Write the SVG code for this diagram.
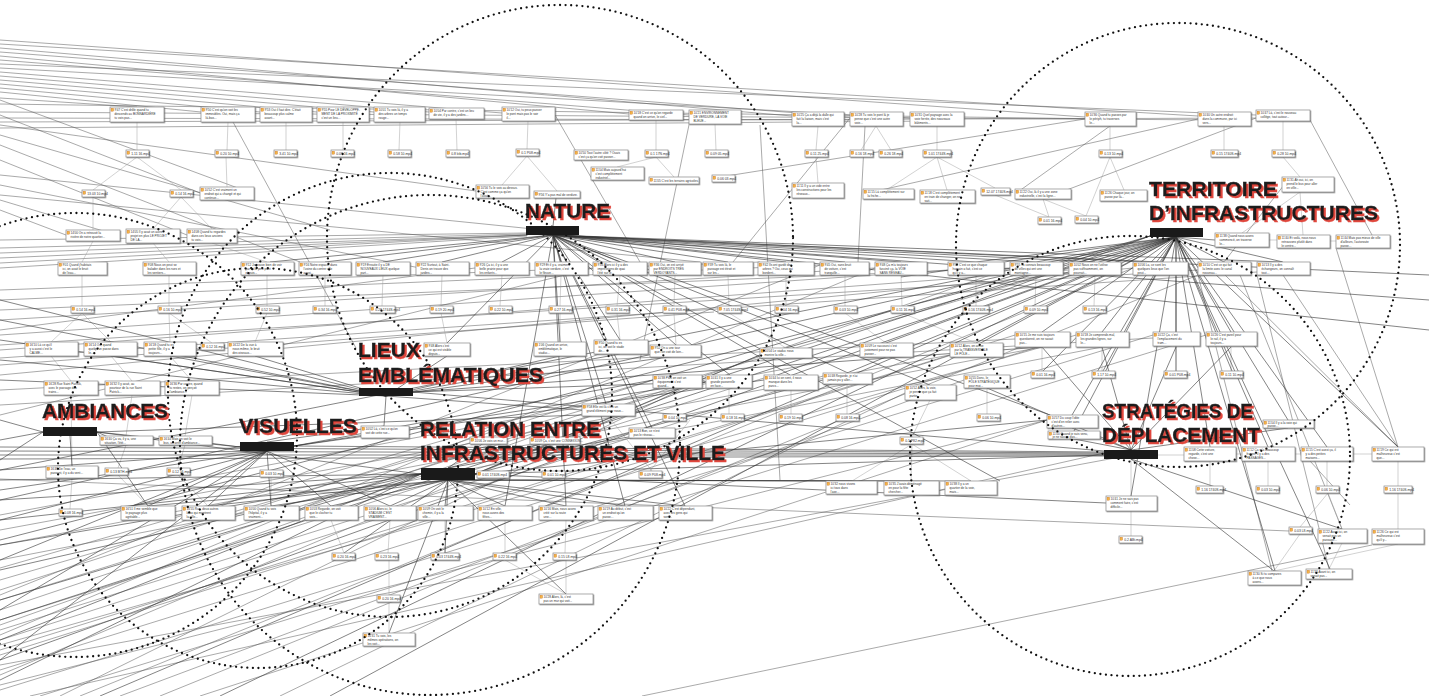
<svg xmlns="http://www.w3.org/2000/svg" xmlns:xlink="http://www.w3.org/1999/xlink" width="1429" height="696" viewBox="0 0 1429 696">
<defs>
<style>
.b{fill:#fff;stroke:#8a8a8a;stroke-width:.7;filter:url(#sh)}
.t{font-family:"Liberation Sans",Arial,sans-serif;font-size:3.1px;fill:#333}
.ft{font-family:"Liberation Sans",Arial,sans-serif;font-size:3.4px;fill:#333}
.dc{fill:none;stroke:#111;stroke-width:2.3;stroke-linecap:round;stroke-dasharray:0 5.6}
.e1{fill:none;stroke:#333;stroke-width:.6}
.e2{fill:none;stroke:#555;stroke-width:.5}
.e3{fill:none;stroke:#9a9a9a;stroke-width:.45}
.lb{font-family:"Liberation Sans",Arial,sans-serif;font-weight:bold;font-size:21px;fill:#1c1c1c;stroke:#1c1c1c;stroke-width:.35;filter:url(#rs)}
.bar{fill:#1a1a1a}
</style>
<filter id="sh" x="-10%" y="-20%" width="130%" height="160%"><feDropShadow dx="0.8" dy="0.9" stdDeviation="0.4" flood-color="#666" flood-opacity="0.7"/></filter>
<filter id="rs" x="-5%" y="-25%" width="115%" height="160%"><feFlood flood-color="#e0463c" result="c"/><feComposite in="c" in2="SourceAlpha" operator="in" result="s"/><feOffset in="s" dx="2" dy="1.5" result="o"/><feMerge><feMergeNode in="o"/><feMergeNode in="SourceGraphic"/></feMerge></filter>
<g id="ic"><rect x="1" y="1.2" width="2.6" height="3" fill="#f2b544" stroke="#c0602a" stroke-width=".3"/></g>
</defs>
<rect width="1429" height="696" fill="#fff"/>

<g id="connectors">
<path class="e2" d="M0 40L1085 117M0 44L1198 116M0 48L792 116M0 52L850 117M0 56L629 114M0 60L689 115M0 64L1256 115M0 68L910 118M0 72L502 113M0 76L429 112M0 80L374 112M0 84L317 112M0 88L260 112M0 92L201 112M0 98L137 107M0 104L1110 119M0 112L1224 120M0 118L876 120M0 122L1283 118M0 128L937 121
M0 100L254 194M0 115L200 193M0 125L476 191M0 135L330 230M0 145L300 262M0 160L187 235M0 175L553 231M0 200L120 236M0 210L66 235M0 185L420 268M0 195L700 262
M0 240L526 233M0 248L526 234M0 253L527 235M0 258L527 235M0 263L528 235M0 268L527 236
M0 290L760 262M0 300L820 265M0 310L1010 268M0 320L875 268M0 335L948 270M0 350L1069 270M0 365L714 312M0 375L1133 268M0 390L1015 339M0 405L1153 338M0 415L593 268M0 330L475 268M0 345L1198 270M0 358L1257 272
M0 600L705 380M0 620L764 378M0 640L823 376M0 655L1015 335M0 670L1076 335M0 690L1153 335M40 696L1206 335M120 696L964 380M200 696L1047 420M280 696L905 393M0 580L1176 237M0 560L1102 347M0 545L1042 347M0 530L950 355M0 515L860 355
M0 645L1042 347M0 650L950 355M0 665L1131 455M0 685L1047 420M30 696L1104 453M0 568L653 380M0 595L820 265M0 625L1010 268M0 635L875 268M80 696L1133 268M160 696L1198 275
M642 696L1372 545M0 479L1289 531M0 590L653 380M0 610L582 414M0 630L629 433M60 696L700 380M0 675L760 355
M233 122L356 348M555 115L640 262M690 120L640 360M760 125L780 480M865 126L858 262M1085 119L714 178M1198 119L863 194M1110 126L1015 194M850 118L733 262M1256 118L1043 199
M1225 275L1398 447M1198 275L1272 571M1257 275L1329 569M1240 275L1342 529M1283 275L1398 447M1336 248L1398 447M1284 185L1224 262M1310 120L1372 235M1300 450L1350 505"/>
<path class="e3" d="M137 122V150M228 122L227 150M286 122V150M343 122V150M400 122L399 150M456 119L457 150M528 121L527 149M656 120L656 150M715 124L716 150M818 126L816 150M876 126L861 150M876 126L891 150M937 126V150M1110 126V150M1224 126V150M1283 121V150
M137 157L93 190M137 157L181 190M226 157L227 187M527 156L502 185M527 156L557 191M656 157L617 167M656 157L674 177M816 157L818 183M937 157L888 189M937 157L947 190M937 157L995 188M1110 157L1086 216M1110 157L1124 190M1283 157L1300 177M1300 192L1242 233M1300 192L1303 235M1043 199L1049 217M1043 199L1086 216M1269 240H1277M1330 241H1336M995 195L1049 217
M93 197L93 230M181 197L153 229M181 197L212 229M93 241L82 262M153 243L169 262M212 243L267 262
M82 275V306M169 275V306M267 275V306M325 275V306M383 275L382 306M442 275L441 306M502 275L500 306M561 275L560 306M620 275L617 306M675 275L674 306M728 275L729 306M786 275V306M845 275V306M901 275L902 306M976 275V306M1036 275L1035 306M1095 275L1094 306
M82 313L51 342M82 313L111 342M169 313L170 342M169 313L212 343M267 313L255 342M441 313L447 343M560 313V342M617 313L620 340M674 313L676 345M729 313L786 348M845 313L886 343M902 313L976 343
M51 356L71 381M111 356L132 381M170 356L192 381M71 395L72 466M132 395L126 436M192 395L185 436M126 445L118 468M185 445L178 468M72 478L70 509M118 475L148 506M178 475L208 506M271 477V506
M1042 347V371M1102 347V371M1176 346V371M1231 346V371M791 390V414M847 384V414M729 388V414M987 388V414M930 400L912 437M912 444L852 481M912 444L911 481M912 444L971 481
M1131 459V496M1131 511V536M1210 461V486M1268 461V486M1327 461V486M1398 461V486M1328 493L1300 527M1328 493L1342 529M1398 493V529M1342 543L1329 569M1300 534L1274 571M1398 544L1274 571M1236 454H1242M1295 454H1301M1353 454H1372M1158 455H1184
M331 520L344 553M390 520L388 553M445 520V553M505 520V553M566 520L565 553M389 560V595M389 600V633M566 560V594M505 560L566 594M608 416L652 471M690 420L650 471"/>
<path class="e1" d="M553 235L270 262M553 235L325 262M553 235L383 262M553 235L442 262M553 235L502 262M553 235L561 262M553 235L620 262M553 235L675 262M553 235L728 262M553 235L786 262M553 235L845 262M553 235L901 262M553 235L976 262M553 235L1036 262M553 235L1095 262M553 235L1160 262M553 235L447 343M553 235L560 342M553 235L620 340M553 235L676 345M553 235L730 375M553 235L790 375M553 235L848 373M553 235L930 385M553 235L606 404M553 235L652 428M553 235L505 506M553 235L566 506M553 235L625 506M553 235L685 506M553 235L1429 300M553 235L1429 330M553 226L556 198M553 235L1050 415M553 235L1000 481M553 235L1429 275M553 235L1282 262
M1176 237L1042 332M1176 237L1102 332M1176 237L1176 332M1176 237L1231 332M1176 237L1043 371M1176 237L1103 371M1176 237L1176 371M1176 237L1232 371M1176 237L1210 447M1176 237L1268 447M1176 237L1327 447M1176 237L1398 447M1176 237L1224 262M1176 237L1283 262M1176 237L1215 240M1176 237L1160 262M1176 237L1036 262M1176 237L976 262M1176 237L901 277M1176 237L886 343M1176 237L786 348M1176 237L976 343M1176 237L847 373M1176 237L1072 415M1176 237L1074 431M1176 237L1288 420M1176 237L1131 496M1176 237L1275 571M1176 237L1330 569
M1176 237L0 470M1176 237L0 500M1176 237L0 540M1176 237L0 620M1176 237L0 660M1176 237L100 696M1176 237L220 696M1176 237L330 696M1150 236L705 382M1150 236L764 380M1150 236L653 380
M1104 453L0 447M1104 454L0 451M1104 455L0 455M1104 456L0 459M1131 450L1042 347M1131 450L1102 347M1131 450L1176 347M1131 450L1231 347M1131 450L1072 428M1131 450L1074 439M1131 450L1288 428M1131 450L987 388M1131 459L1342 529M1131 459L1274 571
M448 480L148 506M448 480L208 506M448 480L271 506M448 480L331 506M448 480L390 506M448 480L445 506M448 480L505 506M448 480L566 506M448 480L625 506M448 480L685 506M448 480L852 481M448 480L911 481M448 480L971 481M448 480L344 553M448 480L445 553M448 480L566 594M448 480L389 633M421 474L0 480M421 474L0 500M421 474L0 520M421 474L0 545M421 474L0 570M421 474L0 600M421 474L0 640M421 474L0 680M475 474L1104 455M475 474L1106 503M475 474L760 355M475 474L823 380M475 474L705 382M475 474L1047 420M448 468L488 440M448 468L555 440M448 468L652 433
M267 451L148 506M267 451L208 506M267 451L271 506M267 451L331 506M267 451L390 506M267 451L0 470M267 451L0 490M267 451L0 520M267 451L0 560M267 451L0 610M267 451L0 660M294 446L705 382M294 446L764 380M294 446L653 380M294 446L1104 452M267 442L384 426M240 447L185 440
M70 436L72 466M43 432L0 420M43 432L0 440M43 432L0 460M97 432L420 474M97 432L240 447M97 432L582 415M97 432L126 445M97 432L148 506
M386 396L447 356M386 396L560 356M386 396L620 354M386 396L676 356M386 396L255 356M386 396L170 356M386 396L111 356M386 396L0 300M386 396L0 320M386 396L0 340M386 396L0 360M386 396L0 380M386 396L582 410M386 396L384 426M413 392L706 382M413 392L1104 451M413 392L1042 347"/>
</g>

<g id="nodes">
<g id="q1" transform="translate(110 107)"><rect class="b" width="54" height="15"/><use href="#ic"/><text class="t"><tspan x="4.5" y="4.2">9'47 C'est drôle quand tu</tspan><tspan x="4.5" y="8.2">descends au BONNARDIÈRE</tspan><tspan x="4.5" y="12.2">tu vois pas...</tspan></text></g>
<g id="q2" transform="translate(201 107)"><rect class="b" width="54" height="15"/><use href="#ic"/><text class="t"><tspan x="4.5" y="4.2">9'50 C'est qu'on voit les</tspan><tspan x="4.5" y="8.2">immeubles. Oui, mais ça</tspan><tspan x="4.5" y="12.2">là-bas...</tspan></text></g>
<g id="q3" transform="translate(260 107)"><rect class="b" width="52" height="15"/><use href="#ic"/><text class="t"><tspan x="4.5" y="4.2">9'53 Oui il faut dire. C'était</tspan><tspan x="4.5" y="8.2">beaucoup plus calme</tspan><tspan x="4.5" y="12.2">avant...</tspan></text></g>
<g id="q4" transform="translate(317 107)"><rect class="b" width="52" height="15"/><use href="#ic"/><text class="t"><tspan x="4.5" y="4.2">9'55 Pour LE DÉVELOPPE-</tspan><tspan x="4.5" y="8.2">MENT DE LA PROXIMITÉ</tspan><tspan x="4.5" y="12.2">c'est un lieu...</tspan></text></g>
<g id="q5" transform="translate(374 107)"><rect class="b" width="51" height="15"/><use href="#ic"/><text class="t"><tspan x="4.5" y="4.2">10'01 Tu vois là, il y a</tspan><tspan x="4.5" y="8.2">des arbres un temps</tspan><tspan x="4.5" y="12.2">rouge...</tspan></text></g>
<g id="q6" transform="translate(429 108)"><rect class="b" width="55" height="11"/><use href="#ic"/><text class="t"><tspan x="4.5" y="4.2">10'04 Par contre, c'est un lieu</tspan><tspan x="4.5" y="8.2">de vie, il y a des jardins...</tspan></text></g>
<g id="q7" transform="translate(502 107)"><rect class="b" width="53" height="14"/><use href="#ic"/><text class="t"><tspan x="4.5" y="4.2">10'12 Oui, tu peux passer</tspan><tspan x="4.5" y="8.2">le pont mais pas le soir</tspan><tspan x="4.5" y="12.2">il...</tspan></text></g>
<g id="q8" transform="translate(629 110)"><rect class="b" width="54" height="10"/><use href="#ic"/><text class="t"><tspan x="4.5" y="4.2">10'18 C'est ce qu'on regarde</tspan><tspan x="4.5" y="8.2">quand on arrive, le ciel...</tspan></text></g>
<g id="q9" transform="translate(689 110)"><rect class="b" width="52" height="14"/><use href="#ic"/><text class="t"><tspan x="4.5" y="4.2">10'21 ENVIRONNEMENT</tspan><tspan x="4.5" y="8.2">DE VERDURE, LA VOIE</tspan><tspan x="4.5" y="12.2">BLEUE...</tspan></text></g>
<g id="q10" transform="translate(792 112)"><rect class="b" width="52" height="14"/><use href="#ic"/><text class="t"><tspan x="4.5" y="4.2">10'25 Ça a déjà la dalle qui</tspan><tspan x="4.5" y="8.2">fait la liaison, mais c'est</tspan><tspan x="4.5" y="12.2">la...</tspan></text></g>
<g id="q11" transform="translate(850 112)"><rect class="b" width="53" height="14"/><use href="#ic"/><text class="t"><tspan x="4.5" y="4.2">10'28 Tu vois le pont là je</tspan><tspan x="4.5" y="8.2">pense que c'est une autre</tspan><tspan x="4.5" y="12.2">voie...</tspan></text></g>
<g id="q12" transform="translate(910 112)"><rect class="b" width="54" height="14"/><use href="#ic"/><text class="t"><tspan x="4.5" y="4.2">10'31 Quel paysage avec la</tspan><tspan x="4.5" y="8.2">voie ferrée, des nouveaux</tspan><tspan x="4.5" y="12.2">bâtiments...</tspan></text></g>
<g id="q13" transform="translate(1085 112)"><rect class="b" width="51" height="14"/><use href="#ic"/><text class="t"><tspan x="4.5" y="4.2">10'36 Quand tu passes par</tspan><tspan x="4.5" y="8.2">le périph, tu traverses</tspan><tspan x="4.5" y="12.2">le...</tspan></text></g>
<g id="q14" transform="translate(1198 112)"><rect class="b" width="53" height="14"/><use href="#ic"/><text class="t"><tspan x="4.5" y="4.2">10'40 Un autre endroit</tspan><tspan x="4.5" y="8.2">dans la commune, par ici</tspan><tspan x="4.5" y="12.2">vers...</tspan></text></g>
<g id="q15" transform="translate(1256 110)"><rect class="b" width="54" height="11"/><use href="#ic"/><text class="t"><tspan x="4.5" y="4.2">10'47 Là, c'est le nouveau</tspan><tspan x="4.5" y="8.2">collège, tout autour...</tspan></text></g>
<g id="q16" transform="translate(574 150)"><rect class="b" width="54" height="10"/><use href="#ic"/><text class="t"><tspan x="4.5" y="4.2">10'50 Tout l'autre côté ? Ouais</tspan><tspan x="4.5" y="8.2">c'est ça qu'on voit passer...</tspan></text></g>
<g id="q17" transform="translate(200 187)"><rect class="b" width="54" height="13"/><use href="#ic"/><text class="t"><tspan x="4.5" y="4.2">10'52 C'est vraiment un</tspan><tspan x="4.5" y="8.2">endroit qui a changé et qui</tspan><tspan x="4.5" y="12.2">continue...</tspan></text></g>
<g id="q18" transform="translate(476 185)"><rect class="b" width="53" height="13"/><use href="#ic"/><text class="t"><tspan x="4.5" y="4.2">10'56 Tu le vois au dessus.</tspan><tspan x="4.5" y="8.2">C'est comme ça qu'on</tspan><tspan x="4.5" y="12.2">l'avait...</tspan></text></g>
<g id="q19" transform="translate(534 191)"><rect class="b" width="46" height="7"/><use href="#ic"/><text class="t"><tspan x="4.5" y="4.6">9'56 Y'a pas mal de verdure.</tspan></text></g>
<g id="q20" transform="translate(591 167)"><rect class="b" width="53" height="13"/><use href="#ic"/><text class="t"><tspan x="4.5" y="4.2">11'04 Mais aujourd'hui</tspan><tspan x="4.5" y="8.2">c'est complètement</tspan><tspan x="4.5" y="12.2">industriel...</tspan></text></g>
<g id="q21" transform="translate(649 177)"><rect class="b" width="50" height="7"/><use href="#ic"/><text class="t"><tspan x="4.5" y="4.6">11'05 C'est les terrains agricoles.</tspan></text></g>
<g id="q22" transform="translate(792 183)"><rect class="b" width="52" height="15"/><use href="#ic"/><text class="t"><tspan x="4.5" y="4.2">11'11 Il y a un vide entre</tspan><tspan x="4.5" y="8.2">les constructions pour les</tspan><tspan x="4.5" y="12.2">réseaux...</tspan></text></g>
<g id="q23" transform="translate(863 189)"><rect class="b" width="51" height="10"/><use href="#ic"/><text class="t"><tspan x="4.5" y="4.2">11'15 Là complètement sur</tspan><tspan x="4.5" y="8.2">la friche...</tspan></text></g>
<g id="q24" transform="translate(920 190)"><rect class="b" width="55" height="13"/><use href="#ic"/><text class="t"><tspan x="4.5" y="4.2">11'18 C'est complètement</tspan><tspan x="4.5" y="8.2">en train de changer, on ne</tspan><tspan x="4.5" y="12.2">sait...</tspan></text></g>
<g id="q25" transform="translate(1015 189)"><rect class="b" width="56" height="10"/><use href="#ic"/><text class="t"><tspan x="4.5" y="4.2">11'22 Oui, là il y a une zone</tspan><tspan x="4.5" y="8.2">industrielle, c'est la ligne...</tspan></text></g>
<g id="q26" transform="translate(1100 190)"><rect class="b" width="47" height="11"/><use href="#ic"/><text class="t"><tspan x="4.5" y="4.2">11'26 Chaque jour, on</tspan><tspan x="4.5" y="8.2">passe par là...</tspan></text></g>
<g id="q27" transform="translate(1282 177)"><rect class="b" width="52" height="15"/><use href="#ic"/><text class="t"><tspan x="4.5" y="4.2">11'31 Ah oui, ici, on</tspan><tspan x="4.5" y="8.2">prend le bus pour aller</tspan><tspan x="4.5" y="12.2">en ville...</tspan></text></g>
<g id="q28" transform="translate(1215 233)"><rect class="b" width="54" height="14"/><use href="#ic"/><text class="t"><tspan x="4.5" y="4.2">11'38 Quand nous avons</tspan><tspan x="4.5" y="8.2">commencé, on traverse</tspan><tspan x="4.5" y="12.2">le...</tspan></text></g>
<g id="q29" transform="translate(1277 235)"><rect class="b" width="53" height="13"/><use href="#ic"/><text class="t"><tspan x="4.5" y="4.2">11'40 Et voilà, nous nous</tspan><tspan x="4.5" y="8.2">retrouvons plutôt dans</tspan><tspan x="4.5" y="12.2">le centre...</tspan></text></g>
<g id="q30" transform="translate(1336 235)"><rect class="b" width="54" height="13"/><use href="#ic"/><text class="t"><tspan x="4.5" y="4.2">11'44 Mais pas mieux de ville</tspan><tspan x="4.5" y="8.2">d'ailleurs, l'autoroute</tspan><tspan x="4.5" y="12.2">passe...</tspan></text></g>
<g id="q31" transform="translate(66 230)"><rect class="b" width="54" height="11"/><use href="#ic"/><text class="t"><tspan x="4.5" y="4.2">14'00 On a retrouvé la</tspan><tspan x="4.5" y="8.2">rivière de notre quartier...</tspan></text></g>
<g id="q32" transform="translate(126 229)"><rect class="b" width="54" height="14"/><use href="#ic"/><text class="t"><tspan x="4.5" y="4.2">14'05 Il y avait un autre</tspan><tspan x="4.5" y="8.2">projet en plus LE PROJET</tspan><tspan x="4.5" y="12.2">DE LA...</tspan></text></g>
<g id="q33" transform="translate(187 229)"><rect class="b" width="50" height="14"/><use href="#ic"/><text class="t"><tspan x="4.5" y="4.2">14'08 Quand tu regardes</tspan><tspan x="4.5" y="8.2">dans ces lieux anciens</tspan><tspan x="4.5" y="12.2">tu vois...</tspan></text></g>
<g id="q34" transform="translate(58 262)"><rect class="b" width="49" height="13"/><use href="#ic"/><text class="t"><tspan x="4.5" y="4.2">9'01 Quand j'habitais</tspan><tspan x="4.5" y="8.2">ici, on avait le bruit</tspan><tspan x="4.5" y="12.2">de l'eau...</tspan></text></g>
<g id="q35" transform="translate(143 262)"><rect class="b" width="53" height="13"/><use href="#ic"/><text class="t"><tspan x="4.5" y="4.2">9'08 Nous on peut se</tspan><tspan x="4.5" y="8.2">balader dans les rues et</tspan><tspan x="4.5" y="12.2">les sentiers...</tspan></text></g>
<g id="q36" transform="translate(241 262)"><rect class="b" width="53" height="13"/><use href="#ic"/><text class="t"><tspan x="4.5" y="4.2">9'12 Je trouve bien de voir</tspan><tspan x="4.5" y="8.2">par ici le petit pont</tspan><tspan x="4.5" y="12.2">et puis...</tspan></text></g>
<g id="q37" transform="translate(299 262)"><rect class="b" width="52" height="13"/><use href="#ic"/><text class="t"><tspan x="4.5" y="4.2">9'16 Notre espace, dans</tspan><tspan x="4.5" y="8.2">l'usine du centre ville</tspan><tspan x="4.5" y="12.2">aussi...</tspan></text></g>
<g id="q38" transform="translate(356 262)"><rect class="b" width="54" height="13"/><use href="#ic"/><text class="t"><tspan x="4.5" y="4.2">9'19 Ensuite il y a DE</tspan><tspan x="4.5" y="8.2">NOUVEAUX LIEUX quelque</tspan><tspan x="4.5" y="12.2">part...</tspan></text></g>
<g id="q39" transform="translate(416 262)"><rect class="b" width="53" height="13"/><use href="#ic"/><text class="t"><tspan x="4.5" y="4.2">9'22 Surtout, à Saint-</tspan><tspan x="4.5" y="8.2">Denis on trouve des</tspan><tspan x="4.5" y="12.2">jardins...</tspan></text></g>
<g id="q40" transform="translate(475 262)"><rect class="b" width="54" height="13"/><use href="#ic"/><text class="t"><tspan x="4.5" y="4.2">9'26 Ça ici, il y a une</tspan><tspan x="4.5" y="8.2">belle prairie pour que</tspan><tspan x="4.5" y="12.2">les enfants...</tspan></text></g>
<g id="q41" transform="translate(535 262)"><rect class="b" width="53" height="13"/><use href="#ic"/><text class="t"><tspan x="4.5" y="4.2">9'29 Et il y a, vraiment</tspan><tspan x="4.5" y="8.2">la vraie verdure, c'est</tspan><tspan x="4.5" y="12.2">le fleuve...</tspan></text></g>
<g id="q42" transform="translate(593 262)"><rect class="b" width="54" height="13"/><use href="#ic"/><text class="t"><tspan x="4.5" y="4.2">9'33 Alors ici il y a des</tspan><tspan x="4.5" y="8.2">impressions de quai</tspan><tspan x="4.5" y="12.2">l'été sur le...</tspan></text></g>
<g id="q43" transform="translate(649 262)"><rect class="b" width="52" height="13"/><use href="#ic"/><text class="t"><tspan x="4.5" y="4.2">9'36 Oui, on est arrivé</tspan><tspan x="4.5" y="8.2">par ENDROITS TRÈS</tspan><tspan x="4.5" y="12.2">VERDOYANTS...</tspan></text></g>
<g id="q44" transform="translate(703 262)"><rect class="b" width="50" height="13"/><use href="#ic"/><text class="t"><tspan x="4.5" y="4.2">9'39 Tu vois là, le</tspan><tspan x="4.5" y="8.2">passage est étroit et</tspan><tspan x="4.5" y="12.2">sur les...</tspan></text></g>
<g id="q45" transform="translate(758 262)"><rect class="b" width="56" height="13"/><use href="#ic"/><text class="t"><tspan x="4.5" y="4.2">9'42 Ils ont gardé des</tspan><tspan x="4.5" y="8.2">arbres ? Oui, ceux qui</tspan><tspan x="4.5" y="12.2">bordent...</tspan></text></g>
<g id="q46" transform="translate(820 262)"><rect class="b" width="49" height="13"/><use href="#ic"/><text class="t"><tspan x="4.5" y="4.2">9'45 Oui, sans bruit</tspan><tspan x="4.5" y="8.2">de voiture, c'est</tspan><tspan x="4.5" y="12.2">tranquille...</tspan></text></g>
<g id="q47" transform="translate(875 262)"><rect class="b" width="52" height="13"/><use href="#ic"/><text class="t"><tspan x="4.5" y="4.2">9'48 Ça m'a toujours</tspan><tspan x="4.5" y="8.2">fasciné ça, la VOIE</tspan><tspan x="4.5" y="12.2">SANS RÉSEAU...</tspan></text></g>
<g id="q48" transform="translate(948 262)"><rect class="b" width="56" height="13"/><use href="#ic"/><text class="t"><tspan x="4.5" y="4.2">9'52 C'est ce que chaque</tspan><tspan x="4.5" y="8.2">humain a fait, c'est ce</tspan><tspan x="4.5" y="12.2">qu'il y a...</tspan></text></g>
<g id="q49" transform="translate(1010 262)"><rect class="b" width="53" height="13"/><use href="#ic"/><text class="t"><tspan x="4.5" y="4.2">9'55 Tu connais beaucoup</tspan><tspan x="4.5" y="8.2">de villes qui ont une</tspan><tspan x="4.5" y="12.2">montagne...</tspan></text></g>
<g id="q50" transform="translate(1069 262)"><rect class="b" width="52" height="13"/><use href="#ic"/><text class="t"><tspan x="4.5" y="4.2">10'02 Nous on ne l'utilise</tspan><tspan x="4.5" y="8.2">pas suffisamment, on</tspan><tspan x="4.5" y="12.2">pourrait...</tspan></text></g>
<g id="q51" transform="translate(1133 262)"><rect class="b" width="55" height="13"/><use href="#ic"/><text class="t"><tspan x="4.5" y="4.2">10'06 La, ce sont les</tspan><tspan x="4.5" y="8.2">quelques lieux que l'on</tspan><tspan x="4.5" y="12.2">peut...</tspan></text></g>
<g id="q52" transform="translate(1198 262)"><rect class="b" width="53" height="13"/><use href="#ic"/><text class="t"><tspan x="4.5" y="4.2">10'10 C'est ce qui fait</tspan><tspan x="4.5" y="8.2">la limite avec le canal</tspan><tspan x="4.5" y="12.2">nouveau...</tspan></text></g>
<g id="q53" transform="translate(1257 262)"><rect class="b" width="53" height="13"/><use href="#ic"/><text class="t"><tspan x="4.5" y="4.2">10'13 Il y a des</tspan><tspan x="4.5" y="8.2">échangeurs, on connaît</tspan><tspan x="4.5" y="12.2">tout...</tspan></text></g>
<g id="q54" transform="translate(25 342)"><rect class="b" width="53" height="14"/><use href="#ic"/><text class="t"><tspan x="4.5" y="4.2">16'10 Là ce qu'il</tspan><tspan x="4.5" y="8.2">y a aussi c'est le</tspan><tspan x="4.5" y="12.2">CALME...</tspan></text></g>
<g id="q55" transform="translate(84 342)"><rect class="b" width="53" height="14"/><use href="#ic"/><text class="t"><tspan x="4.5" y="4.2">16'14 Ou, quand</tspan><tspan x="4.5" y="8.2">quelqu'un passe dans</tspan><tspan x="4.5" y="12.2">le...</tspan></text></g>
<g id="q56" transform="translate(144 342)"><rect class="b" width="52" height="14"/><use href="#ic"/><text class="t"><tspan x="4.5" y="4.2">16'18 Quand tu es</tspan><tspan x="4.5" y="8.2">petite fille, il y a</tspan><tspan x="4.5" y="12.2">toujours...</tspan></text></g>
<g id="q57" transform="translate(228 342)"><rect class="b" width="55" height="14"/><use href="#ic"/><text class="t"><tspan x="4.5" y="4.2">16'22 De la vue à</tspan><tspan x="4.5" y="8.2">nous même, le bruit</tspan><tspan x="4.5" y="12.2">des oiseaux...</tspan></text></g>
<g id="q58" transform="translate(424 343)"><rect class="b" width="46" height="13"/><use href="#ic"/><text class="t"><tspan x="4.5" y="4.2">9'48 Alors c'est</tspan><tspan x="4.5" y="8.2">ce qui est visible</tspan><tspan x="4.5" y="12.2">depuis...</tspan></text></g>
<g id="q59" transform="translate(534 342)"><rect class="b" width="52" height="14"/><use href="#ic"/><text class="t"><tspan x="4.5" y="4.2">1'06 Quand on arrive,</tspan><tspan x="4.5" y="8.2">emblématique, le</tspan><tspan x="4.5" y="12.2">viaduc...</tspan></text></g>
<g id="q60" transform="translate(594 340)"><rect class="b" width="54" height="14"/><use href="#ic"/><text class="t"><tspan x="4.5" y="4.2">9'50 Quand tu es</tspan><tspan x="4.5" y="8.2">ici, on voit le stade</tspan><tspan x="4.5" y="12.2">de...</tspan></text></g>
<g id="q61" transform="translate(650 345)"><rect class="b" width="51" height="12"/><use href="#ic"/><text class="t"><tspan x="4.5" y="4.2">9'52 On a une tour</tspan><tspan x="4.5" y="8.2">que l'on voit de loin...</tspan></text></g>
<g id="q62" transform="translate(760 348)"><rect class="b" width="52" height="10"/><use href="#ic"/><text class="t"><tspan x="4.5" y="4.2">10'04 Le viaduc nous</tspan><tspan x="4.5" y="8.2">montre la ville...</tspan></text></g>
<g id="q63" transform="translate(860 343)"><rect class="b" width="53" height="14"/><use href="#ic"/><text class="t"><tspan x="4.5" y="4.2">10'09 Le raccourci c'est</tspan><tspan x="4.5" y="8.2">justement pour ne pas</tspan><tspan x="4.5" y="12.2">passer...</tspan></text></g>
<g id="q64" transform="translate(950 343)"><rect class="b" width="53" height="14"/><use href="#ic"/><text class="t"><tspan x="4.5" y="4.2">10'12 Alors, on arrive</tspan><tspan x="4.5" y="8.2">par la TRANSVERSALE</tspan><tspan x="4.5" y="12.2">LE PÔLE...</tspan></text></g>
<g id="q65" transform="translate(1015 332)"><rect class="b" width="55" height="15"/><use href="#ic"/><text class="t"><tspan x="4.5" y="4.2">10'15 Je me suis toujours</tspan><tspan x="4.5" y="8.2">questionné, on ne savait</tspan><tspan x="4.5" y="12.2">pas...</tspan></text></g>
<g id="q66" transform="translate(1076 332)"><rect class="b" width="53" height="15"/><use href="#ic"/><text class="t"><tspan x="4.5" y="4.2">10'18 Je comprends mal,</tspan><tspan x="4.5" y="8.2">les grandes lignes, sur</tspan><tspan x="4.5" y="12.2">le...</tspan></text></g>
<g id="q67" transform="translate(1153 332)"><rect class="b" width="47" height="14"/><use href="#ic"/><text class="t"><tspan x="4.5" y="4.2">10'22 Ça, c'est</tspan><tspan x="4.5" y="8.2">l'emplacement du</tspan><tspan x="4.5" y="12.2">tram...</tspan></text></g>
<g id="q68" transform="translate(1206 332)"><rect class="b" width="51" height="14"/><use href="#ic"/><text class="t"><tspan x="4.5" y="4.2">10'26 C'est pareil pour</tspan><tspan x="4.5" y="8.2">le rail, il y a</tspan><tspan x="4.5" y="12.2">toujours...</tspan></text></g>
<g id="q69" transform="translate(44 381)"><rect class="b" width="54" height="14"/><use href="#ic"/><text class="t"><tspan x="4.5" y="4.2">16'28 Rue Saint Patrick,</tspan><tspan x="4.5" y="8.2">avec le passage des</tspan><tspan x="4.5" y="12.2">trains...</tspan></text></g>
<g id="q70" transform="translate(105 381)"><rect class="b" width="55" height="14"/><use href="#ic"/><text class="t"><tspan x="4.5" y="4.2">16'32 Il y avait, au</tspan><tspan x="4.5" y="8.2">pourtour de la rue Saint</tspan><tspan x="4.5" y="12.2">Patrick...</tspan></text></g>
<g id="q71" transform="translate(165 381)"><rect class="b" width="54" height="14"/><use href="#ic"/><text class="t"><tspan x="4.5" y="4.2">16'36 Par contre, quand</tspan><tspan x="4.5" y="8.2">tu restes, on perçoit</tspan><tspan x="4.5" y="12.2">l'ambiance...</tspan></text></g>
<g id="q72" transform="translate(653 375)"><rect class="b" width="49" height="13"/><use href="#ic"/><text class="t"><tspan x="4.5" y="4.2">10'38 Plus on voit un</tspan><tspan x="4.5" y="8.2">équipement c'est</tspan><tspan x="4.5" y="12.2">quand...</tspan></text></g>
<g id="q73" transform="translate(706 375)"><rect class="b" width="46" height="13"/><use href="#ic"/><text class="t"><tspan x="4.5" y="4.2">10'41 Il y a une</tspan><tspan x="4.5" y="8.2">grande passerelle</tspan><tspan x="4.5" y="12.2">en face...</tspan></text></g>
<g id="q74" transform="translate(764 375)"><rect class="b" width="54" height="15"/><use href="#ic"/><text class="t"><tspan x="4.5" y="4.2">10'44 Ici on sent, il nous</tspan><tspan x="4.5" y="8.2">manque dans les</tspan><tspan x="4.5" y="12.2">parcs...</tspan></text></g>
<g id="q75" transform="translate(823 373)"><rect class="b" width="49" height="11"/><use href="#ic"/><text class="t"><tspan x="4.5" y="4.2">10'48 Regarde, je n'ai</tspan><tspan x="4.5" y="8.2">jamais pu y aller...</tspan></text></g>
<g id="q76" transform="translate(905 385)"><rect class="b" width="51" height="15"/><use href="#ic"/><text class="t"><tspan x="4.5" y="4.2">10'52 Alors, la voie,</tspan><tspan x="4.5" y="8.2">je pense que ça fait</tspan><tspan x="4.5" y="12.2">partie...</tspan></text></g>
<g id="q77" transform="translate(964 375)"><rect class="b" width="46" height="13"/><use href="#ic"/><text class="t"><tspan x="4.5" y="4.2">10'55 Donc, le</tspan><tspan x="4.5" y="8.2">PÔLE STRATÉGIQUE</tspan><tspan x="4.5" y="12.2">pour moi...</tspan></text></g>
<g id="q78" transform="translate(582 404)"><rect class="b" width="53" height="12"/><use href="#ic"/><text class="t"><tspan x="4.5" y="4.2">9'58 Elle est là c'est un</tspan><tspan x="4.5" y="8.2">grand élément pour nous...</tspan></text></g>
<g id="q79" transform="translate(100 436)"><rect class="b" width="53" height="9"/><use href="#ic"/><text class="t"><tspan x="4.5" y="4">16'40 Ça va, il y a, une</tspan><tspan x="4.5" y="7.6">situation, l'été...</tspan></text></g>
<g id="q80" transform="translate(159 436)"><rect class="b" width="53" height="9"/><use href="#ic"/><text class="t"><tspan x="4.5" y="4">16'44 Mais on voit le</tspan><tspan x="4.5" y="7.6">bus, un arrêt d'ambiance...</tspan></text></g>
<g id="q81" transform="translate(361 426)"><rect class="b" width="48" height="12"/><use href="#ic"/><text class="t"><tspan x="4.5" y="4.2">10'02 Là, c'est ce qu'on</tspan><tspan x="4.5" y="8.2">voit de cette rue...</tspan></text></g>
<g id="q82" transform="translate(470 437)"><rect class="b" width="37" height="7"/><use href="#ic"/><text class="t"><tspan x="4.5" y="4.6">10'06 Je vois un mur...</tspan></text></g>
<g id="q83" transform="translate(530 437)"><rect class="b" width="50" height="7"/><use href="#ic"/><text class="t"><tspan x="4.5" y="4.6">10'09 Ça, c'est une CONNEXION...</tspan></text></g>
<g id="q84" transform="translate(629 428)"><rect class="b" width="46" height="10"/><use href="#ic"/><text class="t"><tspan x="4.5" y="4.2">10'13 Bon, ce n'est</tspan><tspan x="4.5" y="8.2">pas le réseau...</tspan></text></g>
<g id="q85" transform="translate(1047 415)"><rect class="b" width="51" height="13"/><use href="#ic"/><text class="t"><tspan x="4.5" y="4.2">10'57 Du coup l'idée</tspan><tspan x="4.5" y="8.2">c'est d'en relier avec</tspan><tspan x="4.5" y="12.2">d'autres...</tspan></text></g>
<g id="q86" transform="translate(1048 431)"><rect class="b" width="52" height="8"/><use href="#ic"/><text class="t"><tspan x="4.5" y="4.2">11'00 Quand je suis venu,</tspan><tspan x="4.5" y="7.4">je ne savais pas...</tspan></text></g>
<g id="q87" transform="translate(1263 420)"><rect class="b" width="51" height="8"/><use href="#ic"/><text class="t"><tspan x="4.5" y="4.2">11'04 Il y a la voie qui</tspan><tspan x="4.5" y="7.4">passe...</tspan></text></g>
<g id="q88" transform="translate(46 466)"><rect class="b" width="52" height="12"/><use href="#ic"/><text class="t"><tspan x="4.5" y="4.2">16'48 De l'eau, un</tspan><tspan x="4.5" y="8.2">passant, il y a du vent...</tspan></text></g>
<g id="q89" transform="translate(1184 447)"><rect class="b" width="52" height="14"/><use href="#ic"/><text class="t"><tspan x="4.5" y="4.2">11'08 Cette voiture,</tspan><tspan x="4.5" y="8.2">regarde, c'est une</tspan><tspan x="4.5" y="12.2">chose...</tspan></text></g>
<g id="q90" transform="translate(1242 447)"><rect class="b" width="53" height="14"/><use href="#ic"/><text class="t"><tspan x="4.5" y="4.2">11'12 Ça m'a beaucoup</tspan><tspan x="4.5" y="8.2">frappé, il y a des</tspan><tspan x="4.5" y="12.2">PASSAGES...</tspan></text></g>
<g id="q91" transform="translate(1301 447)"><rect class="b" width="52" height="14"/><use href="#ic"/><text class="t"><tspan x="4.5" y="4.2">11'15 C'est aussi ça, il</tspan><tspan x="4.5" y="8.2">y a des petites</tspan><tspan x="4.5" y="12.2">maisons...</tspan></text></g>
<g id="q92" transform="translate(1372 447)"><rect class="b" width="52" height="14"/><use href="#ic"/><text class="t"><tspan x="4.5" y="4.2">11'19 Ce qui est</tspan><tspan x="4.5" y="8.2">malheureux c'est</tspan><tspan x="4.5" y="12.2">que...</tspan></text></g>
<g id="q93" transform="translate(121 506)"><rect class="b" width="54" height="14"/><use href="#ic"/><text class="t"><tspan x="4.5" y="4.2">16'51 Il me semble que</tspan><tspan x="4.5" y="8.2">le paysage plus</tspan><tspan x="4.5" y="12.2">agréable...</tspan></text></g>
<g id="q94" transform="translate(182 506)"><rect class="b" width="53" height="14"/><use href="#ic"/><text class="t"><tspan x="4.5" y="4.2">16'55 Rue, deux autres</tspan><tspan x="4.5" y="8.2">lieux qui montrent</tspan><tspan x="4.5" y="12.2">la ville...</tspan></text></g>
<g id="q95" transform="translate(244 506)"><rect class="b" width="55" height="14"/><use href="#ic"/><text class="t"><tspan x="4.5" y="4.2">10'00 Quand tu vois</tspan><tspan x="4.5" y="8.2">l'hôpital, il y a</tspan><tspan x="4.5" y="12.2">vraiment...</tspan></text></g>
<g id="q96" transform="translate(305 506)"><rect class="b" width="53" height="14"/><use href="#ic"/><text class="t"><tspan x="4.5" y="4.2">10'03 Regarde, on voit</tspan><tspan x="4.5" y="8.2">que le clocher tu</tspan><tspan x="4.5" y="12.2">vois...</tspan></text></g>
<g id="q97" transform="translate(364 506)"><rect class="b" width="52" height="14"/><use href="#ic"/><text class="t"><tspan x="4.5" y="4.2">10'06 Alors ici, le</tspan><tspan x="4.5" y="8.2">STADIUM C'EST</tspan><tspan x="4.5" y="12.2">VRAIMENT...</tspan></text></g>
<g id="q98" transform="translate(418 506)"><rect class="b" width="55" height="14"/><use href="#ic"/><text class="t"><tspan x="4.5" y="4.2">10'09 On voit le</tspan><tspan x="4.5" y="8.2">chemin, il y a la</tspan><tspan x="4.5" y="12.2">ville...</tspan></text></g>
<g id="q99" transform="translate(478 506)"><rect class="b" width="54" height="14"/><use href="#ic"/><text class="t"><tspan x="4.5" y="4.2">10'12 En ville,</tspan><tspan x="4.5" y="8.2">nous avons des</tspan><tspan x="4.5" y="12.2">fêtes...</tspan></text></g>
<g id="q100" transform="translate(539 506)"><rect class="b" width="54" height="14"/><use href="#ic"/><text class="t"><tspan x="4.5" y="4.2">10'16 Mais, nous avons</tspan><tspan x="4.5" y="8.2">créé sur la route</tspan><tspan x="4.5" y="12.2">une...</tspan></text></g>
<g id="q101" transform="translate(598 506)"><rect class="b" width="55" height="14"/><use href="#ic"/><text class="t"><tspan x="4.5" y="4.2">10'19 Au début, c'est</tspan><tspan x="4.5" y="8.2">un endroit qu'on</tspan><tspan x="4.5" y="12.2">passe...</tspan></text></g>
<g id="q102" transform="translate(659 506)"><rect class="b" width="53" height="14"/><use href="#ic"/><text class="t"><tspan x="4.5" y="4.2">10'22 C'est dépendant,</tspan><tspan x="4.5" y="8.2">avec les gens qui</tspan><tspan x="4.5" y="12.2">sont...</tspan></text></g>
<g id="q103" transform="translate(826 481)"><rect class="b" width="51" height="13"/><use href="#ic"/><text class="t"><tspan x="4.5" y="4.2">10'32 nous vivons</tspan><tspan x="4.5" y="8.2">ici tous dans</tspan><tspan x="4.5" y="12.2">l'axe...</tspan></text></g>
<g id="q104" transform="translate(884 481)"><rect class="b" width="55" height="14"/><use href="#ic"/><text class="t"><tspan x="4.5" y="4.2">10'35 J'avais déménagé</tspan><tspan x="4.5" y="8.2">en pour la fête</tspan><tspan x="4.5" y="12.2">chercher...</tspan></text></g>
<g id="q105" transform="translate(945 481)"><rect class="b" width="52" height="14"/><use href="#ic"/><text class="t"><tspan x="4.5" y="4.2">10'38 Il y a un</tspan><tspan x="4.5" y="8.2">quartier de la voie,</tspan><tspan x="4.5" y="12.2">mais...</tspan></text></g>
<g id="q106" transform="translate(1106 496)"><rect class="b" width="51" height="15"/><use href="#ic"/><text class="t"><tspan x="4.5" y="4.2">10'41 Je ne sais pas</tspan><tspan x="4.5" y="8.2">comment faire, c'est</tspan><tspan x="4.5" y="12.2">difficile...</tspan></text></g>
<g id="q107" transform="translate(1318 529)"><rect class="b" width="49" height="14"/><use href="#ic"/><text class="t"><tspan x="4.5" y="4.2">11'22 Avant ici, on</tspan><tspan x="4.5" y="8.2">venait pas un</tspan><tspan x="4.5" y="12.2">passage...</tspan></text></g>
<g id="q108" transform="translate(1372 529)"><rect class="b" width="52" height="15"/><use href="#ic"/><text class="t"><tspan x="4.5" y="4.2">11'26 Ce qui est</tspan><tspan x="4.5" y="8.2">malheureux c'est</tspan><tspan x="4.5" y="12.2">qu'il y...</tspan></text></g>
<g id="q109" transform="translate(539 594)"><rect class="b" width="54" height="10"/><use href="#ic"/><text class="t"><tspan x="4.5" y="4.2">10'28 Alors, là, c'est</tspan><tspan x="4.5" y="8.2">pas un mur qui voit...</tspan></text></g>
<g id="q110" transform="translate(1248 571)"><rect class="b" width="53" height="14"/><use href="#ic"/><text class="t"><tspan x="4.5" y="4.2">11'30 Si tu compares</tspan><tspan x="4.5" y="8.2">à ce que nous</tspan><tspan x="4.5" y="12.2">avons...</tspan></text></g>
<g id="q111" transform="translate(1306 569)"><rect class="b" width="46" height="10"/><use href="#ic"/><text class="t"><tspan x="4.5" y="4.2">11'33 Avant ici, on</tspan><tspan x="4.5" y="8.2">venait pas...</tspan></text></g>
<g id="q112" transform="translate(363 633)"><rect class="b" width="52" height="13"/><use href="#ic"/><text class="t"><tspan x="4.5" y="4.2">10'31 Tu vois, les</tspan><tspan x="4.5" y="8.2">mêmes opérations, on</tspan><tspan x="4.5" y="12.2">les voit...</tspan></text></g>

<g id="f1" transform="translate(126 150)"><rect class="b" width="23" height="7"/><use href="#ic"/><text class="ft" x="5.2" y="4.8">1.11 16.mp4</text></g>
<g id="f2" transform="translate(215 150)"><rect class="b" width="23" height="7"/><use href="#ic"/><text class="ft" x="5.2" y="4.8">0.20 10.mp4</text></g>
<g id="f3" transform="translate(274 150)"><rect class="b" width="23" height="7"/><use href="#ic"/><text class="ft" x="5.2" y="4.8">3.41 10.mp4</text></g>
<g id="f4" transform="translate(331 150)"><rect class="b" width="23" height="7"/><use href="#ic"/><text class="ft" x="5.2" y="4.8">0.09 16.mp4</text></g>
<g id="f5" transform="translate(388 150)"><rect class="b" width="23" height="7"/><use href="#ic"/><text class="ft" x="5.2" y="4.8">0.58 10.mp4</text></g>
<g id="f6" transform="translate(446 150)"><rect class="b" width="23" height="7"/><use href="#ic"/><text class="ft" x="5.2" y="4.8">0.8 ktb.mp4</text></g>
<g id="f7" transform="translate(516 149)"><rect class="b" width="23" height="7"/><use href="#ic"/><text class="ft" x="5.2" y="4.8">0.1 P08.mp4</text></g>
<g id="f8" transform="translate(645 150)"><rect class="b" width="23" height="7"/><use href="#ic"/><text class="ft" x="5.2" y="4.8">0.1 17N.mp4</text></g>
<g id="f9" transform="translate(705 150)"><rect class="b" width="23" height="7"/><use href="#ic"/><text class="ft" x="5.2" y="4.8">0.09 05.mp4</text></g>
<g id="f10" transform="translate(805 150)"><rect class="b" width="23" height="7"/><use href="#ic"/><text class="ft" x="5.2" y="4.8">0.11 25.mp4</text></g>
<g id="f11" transform="translate(850 150)"><rect class="b" width="23" height="7"/><use href="#ic"/><text class="ft" x="5.2" y="4.8">0.16 18.mp4</text></g>
<g id="f12" transform="translate(879 150)"><rect class="b" width="23" height="7"/><use href="#ic"/><text class="ft" x="5.2" y="4.8">0.26 18.mp4</text></g>
<g id="f13" transform="translate(923 150)"><rect class="b" width="28" height="7"/><use href="#ic"/><text class="ft" x="5.2" y="4.8">1.01 1744S.mp4</text></g>
<g id="f14" transform="translate(1099 150)"><rect class="b" width="23" height="7"/><use href="#ic"/><text class="ft" x="5.2" y="4.8">0.13 10.mp4</text></g>
<g id="f15" transform="translate(1211 150)"><rect class="b" width="27" height="7"/><use href="#ic"/><text class="ft" x="5.2" y="4.8">0.15 1740S.mp4</text></g>
<g id="f16" transform="translate(1272 150)"><rect class="b" width="23" height="7"/><use href="#ic"/><text class="ft" x="5.2" y="4.8">0.28 10.mp4</text></g>
<g id="f17" transform="translate(82 190)"><rect class="b" width="23" height="7"/><use href="#ic"/><text class="ft" x="5.2" y="4.8">13.03 10.mp4</text></g>
<g id="f18" transform="translate(170 190)"><rect class="b" width="23" height="7"/><use href="#ic"/><text class="ft" x="5.2" y="4.8">0.14 16.mp4</text></g>
<g id="f19" transform="translate(712 175)"><rect class="b" width="23" height="7"/><use href="#ic"/><text class="ft" x="5.2" y="4.8">0.06 03.mp4</text></g>
<g id="f20" transform="translate(981 188)"><rect class="b" width="29" height="7"/><use href="#ic"/><text class="ft" x="5.2" y="4.8">12.07 1740S.mp4</text></g>
<g id="f21" transform="translate(1038 217)"><rect class="b" width="23" height="7"/><use href="#ic"/><text class="ft" x="5.2" y="4.8">0.01 16.mp4</text></g>
<g id="f22" transform="translate(1075 216)"><rect class="b" width="23" height="7"/><use href="#ic"/><text class="ft" x="5.2" y="4.8">0.04 10.mp4</text></g>
<g id="f23" transform="translate(71 306)"><rect class="b" width="23" height="7"/><use href="#ic"/><text class="ft" x="5.2" y="4.8">0.14 16.mp4</text></g>
<g id="f24" transform="translate(158 306)"><rect class="b" width="23" height="7"/><use href="#ic"/><text class="ft" x="5.2" y="4.8">0.16 10.mp4</text></g>
<g id="f25" transform="translate(256 306)"><rect class="b" width="23" height="7"/><use href="#ic"/><text class="ft" x="5.2" y="4.8">0.52 10.mp4</text></g>
<g id="f26" transform="translate(313 306)"><rect class="b" width="23" height="7"/><use href="#ic"/><text class="ft" x="5.2" y="4.8">0.34 16.mp4</text></g>
<g id="f27" transform="translate(370 306)"><rect class="b" width="25" height="7"/><use href="#ic"/><text class="ft" x="5.2" y="4.8">0.28 1744S.mp4</text></g>
<g id="f28" transform="translate(430 306)"><rect class="b" width="23" height="7"/><use href="#ic"/><text class="ft" x="5.2" y="4.8">0.19 20.mp4</text></g>
<g id="f29" transform="translate(489 306)"><rect class="b" width="23" height="7"/><use href="#ic"/><text class="ft" x="5.2" y="4.8">0.22 10.mp4</text></g>
<g id="f30" transform="translate(549 306)"><rect class="b" width="23" height="7"/><use href="#ic"/><text class="ft" x="5.2" y="4.8">0.27 16.mp4</text></g>
<g id="f31" transform="translate(606 306)"><rect class="b" width="23" height="7"/><use href="#ic"/><text class="ft" x="5.2" y="4.8">0.31 16.mp4</text></g>
<g id="f32" transform="translate(663 306)"><rect class="b" width="23" height="7"/><use href="#ic"/><text class="ft" x="5.2" y="4.8">0.41 P08.mp4</text></g>
<g id="f33" transform="translate(718 306)"><rect class="b" width="23" height="7"/><use href="#ic"/><text class="ft" x="5.2" y="4.8">7.05 1744S.mp4</text></g>
<g id="f34" transform="translate(775 306)"><rect class="b" width="23" height="7"/><use href="#ic"/><text class="ft" x="5.2" y="4.8">0.04 16.mp4</text></g>
<g id="f35" transform="translate(834 306)"><rect class="b" width="23" height="7"/><use href="#ic"/><text class="ft" x="5.2" y="4.8">0.03 10.mp4</text></g>
<g id="f36" transform="translate(891 306)"><rect class="b" width="23" height="7"/><use href="#ic"/><text class="ft" x="5.2" y="4.8">0.11 16.mp4</text></g>
<g id="f37" transform="translate(963 306)"><rect class="b" width="26" height="7"/><use href="#ic"/><text class="ft" x="5.2" y="4.8">0.16 1740S.mp4</text></g>
<g id="f38" transform="translate(1024 306)"><rect class="b" width="23" height="7"/><use href="#ic"/><text class="ft" x="5.2" y="4.8">0.09 10.mp4</text></g>
<g id="f39" transform="translate(1083 306)"><rect class="b" width="23" height="7"/><use href="#ic"/><text class="ft" x="5.2" y="4.8">0.13 16.mp4</text></g>
<g id="f40" transform="translate(201 343)"><rect class="b" width="23" height="7"/><use href="#ic"/><text class="ft" x="5.2" y="4.8">0.12 16.mp4</text></g>
<g id="f41" transform="translate(1031 371)"><rect class="b" width="23" height="7"/><use href="#ic"/><text class="ft" x="5.2" y="4.8">0.01 16.mp4</text></g>
<g id="f42" transform="translate(1092 371)"><rect class="b" width="23" height="7"/><use href="#ic"/><text class="ft" x="5.2" y="4.8">1.17 10.mp4</text></g>
<g id="f43" transform="translate(1164 371)"><rect class="b" width="23" height="7"/><use href="#ic"/><text class="ft" x="5.2" y="4.8">0.01 P08.mp4</text></g>
<g id="f44" transform="translate(1220 371)"><rect class="b" width="23" height="7"/><use href="#ic"/><text class="ft" x="5.2" y="4.8">0.11 10.mp4</text></g>
<g id="f45" transform="translate(663 414)"><rect class="b" width="23" height="7"/><use href="#ic"/><text class="ft" x="5.2" y="4.8">0.04 10.mp4</text></g>
<g id="f46" transform="translate(721 414)"><rect class="b" width="23" height="7"/><use href="#ic"/><text class="ft" x="5.2" y="4.8">0.18 16.mp4</text></g>
<g id="f47" transform="translate(779 414)"><rect class="b" width="23" height="7"/><use href="#ic"/><text class="ft" x="5.2" y="4.8">0.19 10.mp4</text></g>
<g id="f48" transform="translate(836 414)"><rect class="b" width="23" height="7"/><use href="#ic"/><text class="ft" x="5.2" y="4.8">0.08 16.mp4</text></g>
<g id="f49" transform="translate(977 414)"><rect class="b" width="23" height="7"/><use href="#ic"/><text class="ft" x="5.2" y="4.8">0.06 10.mp4</text></g>
<g id="f50" transform="translate(105 468)"><rect class="b" width="23" height="7"/><use href="#ic"/><text class="ft" x="5.2" y="4.8">0.13 BTH.mp4</text></g>
<g id="f51" transform="translate(167 468)"><rect class="b" width="23" height="7"/><use href="#ic"/><text class="ft" x="5.2" y="4.8">0.12 16.mp4</text></g>
<g id="f52" transform="translate(260 470)"><rect class="b" width="23" height="7"/><use href="#ic"/><text class="ft" x="5.2" y="4.8">0.03 10.mp4</text></g>
<g id="f53" transform="translate(477 471)"><rect class="b" width="32" height="7"/><use href="#ic"/><text class="ft" x="5.2" y="4.8">0.01 1740S.mp4</text></g>
<g id="f54" transform="translate(542 471)"><rect class="b" width="23" height="7"/><use href="#ic"/><text class="ft" x="5.2" y="4.8">0.01 10.mp4</text></g>
<g id="f55" transform="translate(639 471)"><rect class="b" width="23" height="7"/><use href="#ic"/><text class="ft" x="5.2" y="4.8">0.09 P08.mp4</text></g>
<g id="f56" transform="translate(900 437)"><rect class="b" width="23" height="7"/><use href="#ic"/><text class="ft" x="5.2" y="4.8">0.1 P82.mp4</text></g>
<g id="f57" transform="translate(59 509)"><rect class="b" width="23" height="7"/><use href="#ic"/><text class="ft" x="5.2" y="4.8">0.08 16.mp4</text></g>
<g id="f58" transform="translate(1196 486)"><rect class="b" width="27" height="7"/><use href="#ic"/><text class="ft" x="5.2" y="4.8">1.16 1740S.mp4</text></g>
<g id="f59" transform="translate(1256 486)"><rect class="b" width="23" height="7"/><use href="#ic"/><text class="ft" x="5.2" y="4.8">0.03 10.mp4</text></g>
<g id="f60" transform="translate(1316 486)"><rect class="b" width="23" height="7"/><use href="#ic"/><text class="ft" x="5.2" y="4.8">0.06 10.mp4</text></g>
<g id="f61" transform="translate(1384 486)"><rect class="b" width="28" height="7"/><use href="#ic"/><text class="ft" x="5.2" y="4.8">1.16 1740S.mp4</text></g>
<g id="f62" transform="translate(332 553)"><rect class="b" width="23" height="7"/><use href="#ic"/><text class="ft" x="5.2" y="4.8">0.20 16.mp4</text></g>
<g id="f63" transform="translate(375 553)"><rect class="b" width="23" height="7"/><use href="#ic"/><text class="ft" x="5.2" y="4.8">0.23 16.mp4</text></g>
<g id="f64" transform="translate(431 553)"><rect class="b" width="28" height="7"/><use href="#ic"/><text class="ft" x="5.2" y="4.8">0.03 1744S.mp4</text></g>
<g id="f65" transform="translate(493 553)"><rect class="b" width="23" height="7"/><use href="#ic"/><text class="ft" x="5.2" y="4.8">0.22 16.mp4</text></g>
<g id="f66" transform="translate(553 553)"><rect class="b" width="23" height="7"/><use href="#ic"/><text class="ft" x="5.2" y="4.8">0.15 L8.mp4</text></g>
<g id="f67" transform="translate(1119 536)"><rect class="b" width="23" height="7"/><use href="#ic"/><text class="ft" x="5.2" y="4.8">0.2 ABt.mp4</text></g>
<g id="f68" transform="translate(1289 527)"><rect class="b" width="23" height="7"/><use href="#ic"/><text class="ft" x="5.2" y="4.8">0.03 L8.mp4</text></g>
<g id="f69" transform="translate(377 595)"><rect class="b" width="23" height="7"/><use href="#ic"/><text class="ft" x="5.2" y="4.8">0.20 16.mp4</text></g>
</g>

<g id="clusters">
<circle class="dc" cx="560" cy="238" r="233"/>
<circle class="dc" cx="1178" cy="245" r="222"/>
<circle class="dc" cx="1130" cy="456" r="220"/>
<circle class="dc" cx="430" cy="445" r="250"/>
<circle class="dc" cx="75" cy="435" r="222"/>
<circle class="dc" cx="258" cy="468" r="200"/>
<circle class="dc" cx="390" cy="395" r="222"/>
</g>

<g id="label-nature"><text class="lb" x="525" y="218" textLength="85" lengthAdjust="spacingAndGlyphs">NATURE</text><rect class="bar" x="526" y="226" width="53" height="9"/></g>
<g id="label-territoire"><text class="lb" x="1149" y="196" textLength="128" lengthAdjust="spacingAndGlyphs">TERRITOIRE</text><text class="lb" x="1149" y="220" textLength="229" lengthAdjust="spacingAndGlyphs">D’INFRASTRUCTURES</text><rect class="bar" x="1150" y="228" width="53" height="9"/></g>
<g id="label-strategies"><text class="lb" x="1102" y="418" textLength="151" lengthAdjust="spacingAndGlyphs">STRATÉGIES DE</text><text class="lb" x="1102" y="442" textLength="158" lengthAdjust="spacingAndGlyphs">DÉPLACEMENT</text><rect class="bar" x="1104" y="450" width="54" height="9"/></g>
<g id="label-relation"><text class="lb" x="420" y="436" textLength="180" lengthAdjust="spacingAndGlyphs">RELATION ENTRE</text><text class="lb" x="420" y="460" textLength="305" lengthAdjust="spacingAndGlyphs">INFRASTRUCTURES ET VILLE</text><rect class="bar" x="421" y="468" width="54" height="12"/></g>
<g id="label-ambiances"><text class="lb" x="42" y="418" textLength="126" lengthAdjust="spacingAndGlyphs">AMBIANCES</text><rect class="bar" x="43" y="427" width="54" height="9"/></g>
<g id="label-visuelles"><text class="lb" x="239" y="433" textLength="118" lengthAdjust="spacingAndGlyphs">VISUELLES</text><rect class="bar" x="240" y="442" width="54" height="9"/></g>
<g id="label-lieux"><text class="lb" x="358" y="357" textLength="62" lengthAdjust="spacingAndGlyphs">LIEUX</text><text class="lb" x="358" y="382" textLength="185" lengthAdjust="spacingAndGlyphs">EMBLÉMATIQUES</text><rect class="bar" x="359" y="388" width="54" height="8"/></g>
</svg>
